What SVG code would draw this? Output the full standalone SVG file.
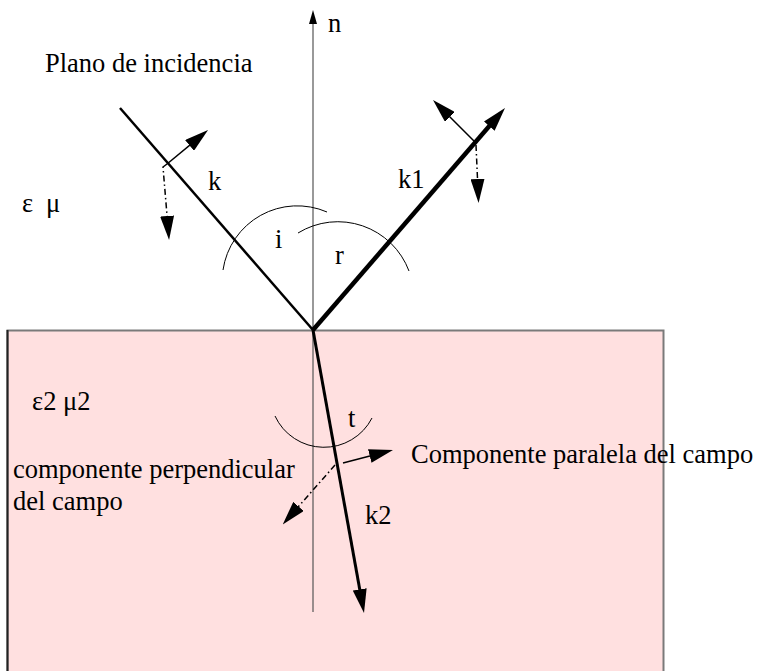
<svg xmlns="http://www.w3.org/2000/svg" width="758" height="671" viewBox="0 0 758 671">
<style>
text{font-family:"Liberation Serif","Times New Roman",serif;font-size:26.5px;fill:#000}
.ray{stroke:#000;fill:none}
.fld{stroke:#000;stroke-width:1.5;fill:none}
.dd{stroke-dasharray:6 3 1.5 3}
.arc{stroke:#000;stroke-width:1;fill:none}
</style>
<defs>
<marker id="ah" markerUnits="userSpaceOnUse" markerWidth="24" markerHeight="14" viewBox="0 0 24 14" refX="11" refY="7" orient="auto"><path d="M0,0 L24,7 L0,14 z" fill="#000"/></marker>
<marker id="ahs" markerUnits="userSpaceOnUse" markerWidth="14" markerHeight="8" viewBox="0 0 14 8" refX="6" refY="4" orient="auto"><path d="M0,0 L14,4 L0,8 z" fill="#000"/></marker>
</defs>
<g id="medium2">
<rect x="7.5" y="330.5" width="656" height="360" fill="#ffe0e0" stroke="#7a7a7a" stroke-width="2"/>
<line x1="7.5" y1="330" x2="7.5" y2="671" stroke="#222" stroke-width="2"/>
</g>
<g id="normal">
<line x1="313" y1="612" x2="313" y2="18" stroke="#555" stroke-width="1.2" marker-end="url(#ahs)"/>
<text x="328" y="32">n</text>
</g>
<g id="arcs">
<path class="arc" d="M223,270 A75,75 0 0 1 327,212"/>
<path class="arc" d="M298,233 A76,76 0 0 1 409,271"/>
<path class="arc" d="M275,416 A54,54 0 0 0 372,418"/>
</g>
<g id="connectors">
<line class="ray" x1="120" y1="108" x2="313" y2="330" stroke-width="2.5"/>
<line class="ray" x1="313" y1="330" x2="496.5" y2="117.8" stroke-width="4.5" marker-end="url(#ah)"/>
<line class="ray" x1="313" y1="330" x2="361.7" y2="600.2" stroke-width="3" marker-end="url(#ah)"/>
<line class="fld" x1="167" y1="164" x2="198" y2="138.4" marker-end="url(#ah)"/>
<path class="fld dd" d="M167,164 L163,167 L168,227" marker-end="url(#ah)"/>
<line class="fld" x1="475" y1="142" x2="442.2" y2="109.2" marker-end="url(#ah)"/>
<line class="fld dd" x1="476" y1="145" x2="478" y2="190" marker-end="url(#ah)"/>
<line class="fld" x1="343" y1="463" x2="380.4" y2="453.3" marker-end="url(#ah)"/>
<line class="fld dd" x1="335" y1="465" x2="291.3" y2="514.7" marker-end="url(#ah)"/>
</g>
<g id="labels">
<text x="45" y="72">Plano de incidencia</text>
<text x="208" y="190">k</text>
<text x="398" y="188">k1</text>
<text y="212"><tspan x="22">ε</tspan><tspan x="46">μ</tspan></text>
<text x="275" y="248">i</text>
<text x="335" y="264">r</text>
<text x="32" y="410">ε2 μ2</text>
<text x="348" y="427">t</text>
<text x="411" y="463">Componente paralela del campo</text>
<text x="13" y="478">componente perpendicular</text>
<text x="13" y="510">del campo</text>
<text x="365" y="524">k2</text>
</g>
</svg>
